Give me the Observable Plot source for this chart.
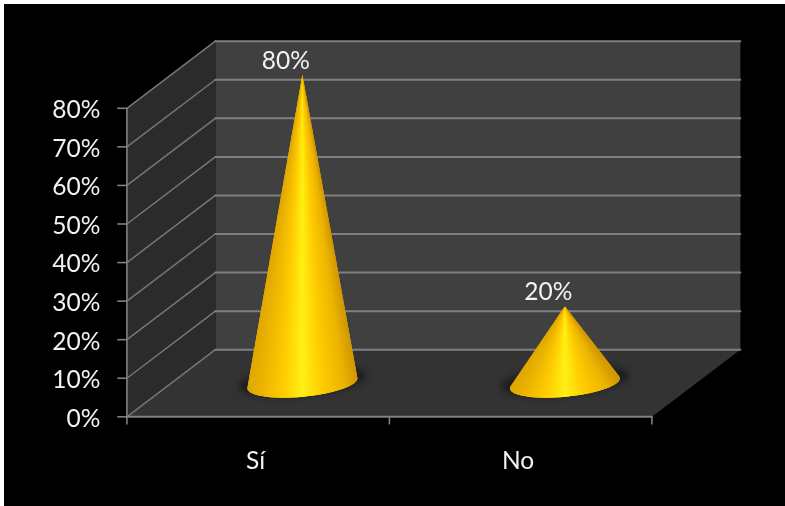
<!DOCTYPE html>
<html><head><meta charset="utf-8">
<script src="https://cdn.jsdelivr.net/npm/d3@7"></script>
<script src="https://cdn.jsdelivr.net/npm/@observablehq/plot@0.6"></script>
<style>
html,body{margin:0;padding:0;background:#fff;}
#c{position:absolute;left:4px;top:4px;width:781px;height:502px;background:#000;overflow:hidden;}
svg{display:block;filter:blur(0.5px);}
</style></head><body><div id="c"></div>
<script>
const categories = ["Sí", "No"];
const values = [80, 20];
const yTicks = [0, 10, 20, 30, 40, 50, 60, 70, 80];

const depthX = 0.337, depthY = 17.4;
const P = (cat, val, depth) => ({x: cat + depth * depthX, y: val + depth * depthY});
const wall = pts => pts.map(([c, v, d]) => P(c, v, d));

const sideWall = wall([[0,0,0],[0,80,0],[0,80,1],[0,0,1]]);
const backWall = wall([[0,0,1],[0,80,1],[2,80,1],[2,0,1]]);
const floor = wall([[0,0,0],[2,0,0],[2,0,1],[0,0,1]]);
const sideLines = yTicks.flatMap(v => wall([[0,v,0],[0,v,1]]).map(p => ({...p, v})));
const backLines = yTicks.flatMap(v => wall([[0,v,1],[2,v,1]]).map(p => ({...p, v})));

const cx = i => i + 0.5;
const R = 0.1966, depthR = 0.215;
const D = depthR * depthX;
const rimMax = Math.hypot(R, D);
const t0 = Math.atan2(D, R);
const color = d3.scaleLinear()
  .domain([0, 0.12, 0.32, 0.5, 0.68, 0.88, 1])
  .range(["#e0a800", "#ecb400", "#ffcc00", "#fff014", "#ffcc00", "#ecb400", "#d09800"]);
const rimX = t => R * Math.cos(t) + D * Math.sin(t);
const steps = 80;
const rimAt = (c, t) => ({x: c.x + rimX(t), y: c.y + depthR * depthY * Math.sin(t)});

const hulls = values.flatMap((val, i) => {
  const c = P(cx(i), 0, 0.5), apex = P(cx(i), val, 0.5);
  const pts = [apex, ...d3.range(0, 360, 3).map(a => rimAt(c, a * Math.PI / 180))];
  const hull = d3.polygonHull(pts.map(p => [p.x, p.y / 130]));
  return hull.map(([x, y]) => ({id: i, x, y: y * 130}));
});

const cones = values.flatMap((val, i) => {
  const c = P(cx(i), 0, 0.5), apex = P(cx(i), val, 0.5);
  return d3.range(steps).flatMap(k => {
    const a = t0 + Math.PI + k / steps * Math.PI;
    const b = t0 + Math.PI + (k + 2) / steps * Math.PI;
    const u = (rimX((2 * a + (b - a) / 2) / 2) / rimMax + 1) / 2;
    const col = color(u), id = `${i}-${String(k).padStart(3, "0")}`;
    return [apex, rimAt(c, a), rimAt(c, Math.min(b, t0 + 2 * Math.PI))].map(p => ({...p, id, col}));
  });
});

const shadows = values.flatMap((val, i) => {
  const c = P(cx(i), 0, 0.5);
  return d3.range(0, 361, 6).map(a => {
    const t = a * Math.PI / 180, p = rimAt({x: 0, y: 0}, t);
    return {id: i, x: c.x + p.x * 1.16, y: c.y + p.y * 1.08 + 0.6};
  });
});

const labels = values.map((v, i) => ({...P(cx(i), v, 0.5), t: v + "%"}));
const catLabels = categories.map((t, i) => ({x: cx(i), t}));
const font = "Lato, 'Open Sans', sans-serif";
const ticksX = d3.range(0, 3);

const plot = Plot.plot({
  width: 781, height: 502,
  marginLeft: 0, marginRight: 0, marginTop: 0, marginBottom: 0,
  style: {background: "transparent", fontFamily: font, overflow: "hidden"},
  x: {type: "linear", domain: [0, 2], range: [122.4, 647.4], axis: null},
  y: {type: "linear", domain: [0, 80], range: [412.3, 103.8], axis: null},
  color: {type: "identity"},
  marks: [
    Plot.line(backWall, {x: "x", y: "y", fill: "#404040", stroke: "none"}),
    Plot.line(sideWall, {x: "x", y: "y", fill: "#2b2b2b", stroke: "none"}),
    Plot.line(floor, {x: "x", y: "y", fill: "#333333", stroke: "none"}),
    Plot.line(sideLines, {x: "x", y: "y", z: "v", stroke: "#767676", strokeWidth: 1.5}),
    Plot.line(backLines, {x: "x", y: "y", z: "v", stroke: "#808080", strokeWidth: 2}),
    Plot.line(wall([[0,0,0],[0,80,0]]), {x: "x", y: "y", stroke: "#808080", strokeWidth: 1.6}),
    Plot.line(wall([[0,0,0],[2,0,0]]), {x: "x", y: "y", stroke: "#808080", strokeWidth: 2}),
    Plot.ruleX(ticksX, {x: d => d, y1: () => -2.1, y2: () => 0, stroke: "#808080", strokeWidth: 1.6}),
    Plot.ruleY(yTicks, {y: d => d, x1: () => -0.035, x2: () => 0, stroke: "#808080", strokeWidth: 1.6}),
    Plot.line(shadows, {x: "x", y: "y", z: "id", fill: "#1c1c1c", stroke: "none", imageFilter: "blur(3.5px)"}),
    Plot.line(hulls, {x: "x", y: "y", z: "id", fill: "#e0a800", stroke: "none"}),
    Plot.line(cones, {x: "x", y: "y", z: "id", fill: "col", stroke: "none", sort: null}),
    Plot.text(yTicks, {x: () => 0, y: d => d, text: d => d + "%", textAnchor: "end", dx: -26.5, dy: 2, fill: "#f2f2f2", fontSize: 24.5}),
    Plot.text(catLabels, {x: "x", y: () => 0, text: "t", dy: 44, dx: -2.5, fill: "#f2f2f2", fontSize: 24.5}),
    Plot.text(labels, {x: "x", y: "y", text: "t", dx: -16.5, dy: -14, fill: "#f2f2f2", fontSize: 24.5})
  ]
});
document.getElementById("c").appendChild(plot);
</script></body></html>
